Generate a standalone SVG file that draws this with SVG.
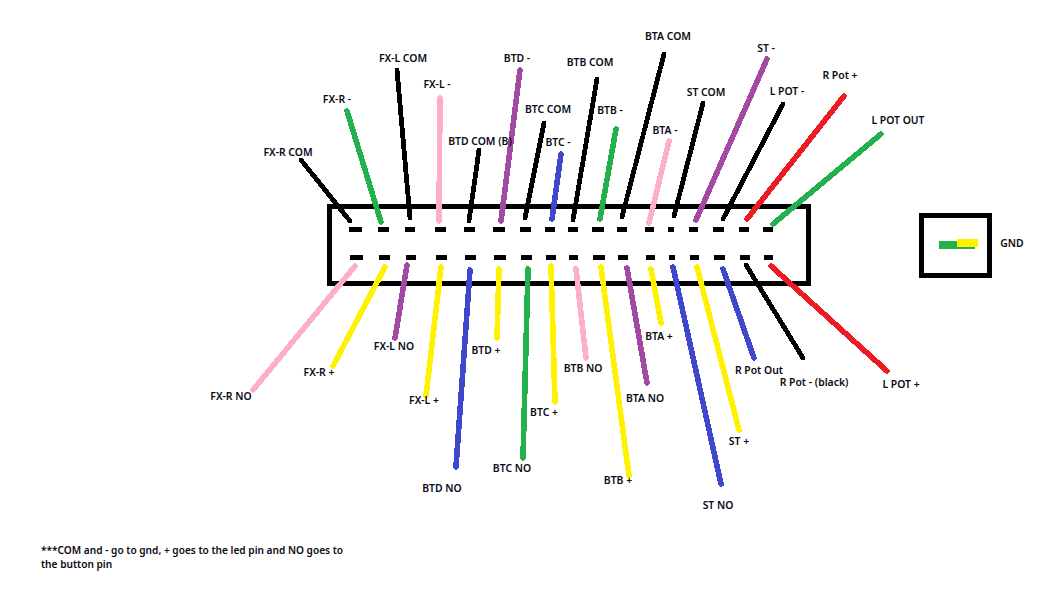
<svg xmlns="http://www.w3.org/2000/svg" width="1063" height="597" viewBox="0 0 1063 597">
<style>
text{font-family:"Noto Sans","DejaVu Sans",sans-serif;font-size:10.4px;font-weight:600;fill:#0a0a14;text-anchor:middle}
.n{text-anchor:start;font-size:10.15px}
.box{fill:none;stroke:#000;stroke-width:5}
line{stroke-width:5.6;stroke-linecap:round;shape-rendering:crispEdges}
.pins line{stroke:#000;stroke-linecap:butt;stroke-width:5}
.k{stroke:#000;stroke-width:4.8}.p{stroke:#ffaec9}.g{stroke:#22b14c}.v{stroke:#a349a4}.b{stroke:#3f48cc}.y{stroke:#fff200}.r{stroke:#ed1c24}
</style>
<rect width="1063" height="597" fill="#fff"/>
<g id="connector-body">
<rect class="box" x="329.5" y="206.5" width="479" height="77"/>
<g class="pins" id="pins-top">
<line x1="349" y1="229" x2="362" y2="229"/><line x1="378" y1="229" x2="389" y2="229"/><line x1="405" y1="229" x2="415" y2="229"/><line x1="435" y1="229" x2="446" y2="229"/><line x1="464" y1="229" x2="475" y2="229"/><line x1="493" y1="229" x2="505" y2="229"/><line x1="520" y1="229" x2="531" y2="229"/><line x1="545" y1="229" x2="555" y2="229"/><line x1="568" y1="229" x2="578" y2="229"/><line x1="592" y1="229" x2="604" y2="229"/><line x1="617" y1="229" x2="627" y2="229"/><line x1="645" y1="229" x2="654" y2="229"/><line x1="668" y1="229" x2="674" y2="229"/><line x1="689" y1="229" x2="698" y2="229"/><line x1="713" y1="229" x2="724" y2="229"/><line x1="739" y1="229" x2="749" y2="229"/><line x1="763" y1="229" x2="773" y2="229"/>
</g>
<g class="pins" id="pins-bottom">
<line x1="350" y1="257" x2="363" y2="257"/><line x1="379" y1="257" x2="390" y2="257"/><line x1="406" y1="257" x2="416" y2="257"/><line x1="436" y1="257" x2="447" y2="257"/><line x1="465" y1="257" x2="476" y2="257"/><line x1="494" y1="257" x2="506" y2="257"/><line x1="521" y1="257" x2="532" y2="257"/><line x1="546" y1="257" x2="556" y2="257"/><line x1="569" y1="257" x2="578" y2="257"/><line x1="593" y1="257" x2="605" y2="257"/><line x1="618" y1="257" x2="628" y2="257"/><line x1="646" y1="257" x2="655" y2="257"/><line x1="669" y1="257" x2="675" y2="257"/><line x1="690" y1="257" x2="699" y2="257"/><line x1="714" y1="257" x2="725" y2="257"/><line x1="740" y1="257" x2="750" y2="257"/><line x1="764" y1="257" x2="773" y2="257"/>
</g>
</g>
<g id="connectors">
<line class="k" x1="301" y1="160" x2="350" y2="221"/>
<line class="g" x1="347" y1="111" x2="381" y2="222"/>
<line class="k" x1="397" y1="70" x2="410" y2="218"/>
<line class="p" x1="440" y1="98" x2="439" y2="221"/>
<line class="k" x1="479" y1="150" x2="469" y2="221"/>
<line class="v" x1="520" y1="70" x2="501" y2="221"/>
<line class="k" x1="544" y1="123" x2="525" y2="218"/>
<line class="b" x1="561" y1="154" x2="552" y2="219"/>
<line class="k" x1="597" y1="79" x2="573" y2="220"/>
<line class="g" x1="616" y1="129" x2="600" y2="219"/>
<line class="k" x1="664" y1="54" x2="622" y2="217"/>
<line class="p" x1="669" y1="141" x2="649" y2="223"/>
<line class="k" x1="703" y1="103" x2="674" y2="216"/>
<line class="v" x1="767" y1="59" x2="696" y2="220"/>
<line class="k" x1="783" y1="104" x2="723" y2="219"/>
<line class="r" x1="844" y1="96" x2="747" y2="219"/>
<line class="g" x1="881" y1="134" x2="773" y2="224"/>
<line class="p" x1="355" y1="266" x2="253" y2="390"/>
<line class="y" x1="385" y1="267" x2="333" y2="366"/>
<line class="v" x1="407" y1="265" x2="395" y2="338"/>
<line class="y" x1="441" y1="267" x2="426" y2="396"/>
<line class="b" x1="470" y1="270" x2="456" y2="467"/>
<line class="y" x1="499" y1="269" x2="497" y2="338"/>
<line class="g" x1="528" y1="269" x2="523" y2="458"/>
<line class="y" x1="551" y1="266" x2="555" y2="402"/>
<line class="p" x1="576" y1="269" x2="586" y2="358"/>
<line class="y" x1="601" y1="267" x2="629" y2="476"/>
<line class="v" x1="627" y1="268" x2="647" y2="383"/>
<line class="y" x1="651" y1="269" x2="661" y2="323"/>
<line class="b" x1="673" y1="267" x2="721" y2="484"/>
<line class="y" x1="697" y1="267" x2="739" y2="430"/>
<line class="b" x1="723" y1="269" x2="754" y2="358"/>
<line class="k" x1="746" y1="265" x2="803" y2="358"/>
<line class="r" x1="771" y1="266" x2="887" y2="371"/>
</g>
<g id="gnd">
<rect class="box" x="921.5" y="215.5" width="68" height="60"/>
<rect x="939" y="241" width="36" height="8" fill="#22b14c"/>
<rect x="957" y="239" width="21" height="8" fill="#fff200"/>
<text x="1012" y="247">GND</text>
</g>
<g id="labels">
<g id="l1"><text x="288" y="156">FX-R COM</text></g>
<g id="l2"><text x="337" y="103">FX-R -</text></g>
<g id="l3"><text x="403" y="62">FX-L COM</text></g>
<g id="l4"><text x="437" y="88">FX-L -</text></g>
<g id="l5"><text x="480" y="145">BTD COM (B)</text></g>
<g id="l6"><text x="517" y="62">BTD -</text></g>
<g id="l7"><text x="548" y="113">BTC COM</text></g>
<g id="l8"><text x="558" y="146">BTC -</text></g>
<g id="l9"><text x="590" y="66">BTB COM</text></g>
<g id="l10"><text x="610" y="114">BTB -</text></g>
<g id="l11"><text x="668" y="40">BTA COM</text></g>
<g id="l12"><text x="665" y="134">BTA -</text></g>
<g id="l13"><text x="706" y="96">ST COM</text></g>
<g id="l14"><text x="766" y="52">ST -</text></g>
<g id="l15"><text x="787" y="95">L POT -</text></g>
<g id="l16"><text x="840" y="79">R Pot +</text></g>
<g id="l17"><text x="898" y="124">L POT OUT</text></g>
<g id="l18"><text x="231" y="400">FX-R NO</text></g>
<g id="l19"><text x="319" y="376">FX-R +</text></g>
<g id="l20"><text x="394" y="350">FX-L NO</text></g>
<g id="l21"><text x="424" y="404">FX-L +</text></g>
<g id="l22"><text x="442" y="492">BTD NO</text></g>
<g id="l23"><text x="486" y="354">BTD +</text></g>
<g id="l24"><text x="512" y="472">BTC NO</text></g>
<g id="l25"><text x="544" y="416">BTC +</text></g>
<g id="l26"><text x="583" y="372">BTB NO</text></g>
<g id="l27"><text x="618" y="484">BTB +</text></g>
<g id="l28"><text x="645" y="402">BTA NO</text></g>
<g id="l29"><text x="659" y="340">BTA +</text></g>
<g id="l30"><text x="718" y="509">ST NO</text></g>
<g id="l31"><text x="739" y="445">ST +</text></g>
<g id="l32"><text x="759" y="374">R Pot Out</text></g>
<g id="l33"><text x="814" y="386">R Pot - (black)</text></g>
<g id="l34"><text x="901" y="388">L POT +</text></g>
</g>
<g id="note">
<text class="n" x="41" y="554">***COM and - go to gnd, + goes to the led pin and NO goes to</text>
<text class="n" x="41" y="568">the button pin</text>
</g>
</svg>
